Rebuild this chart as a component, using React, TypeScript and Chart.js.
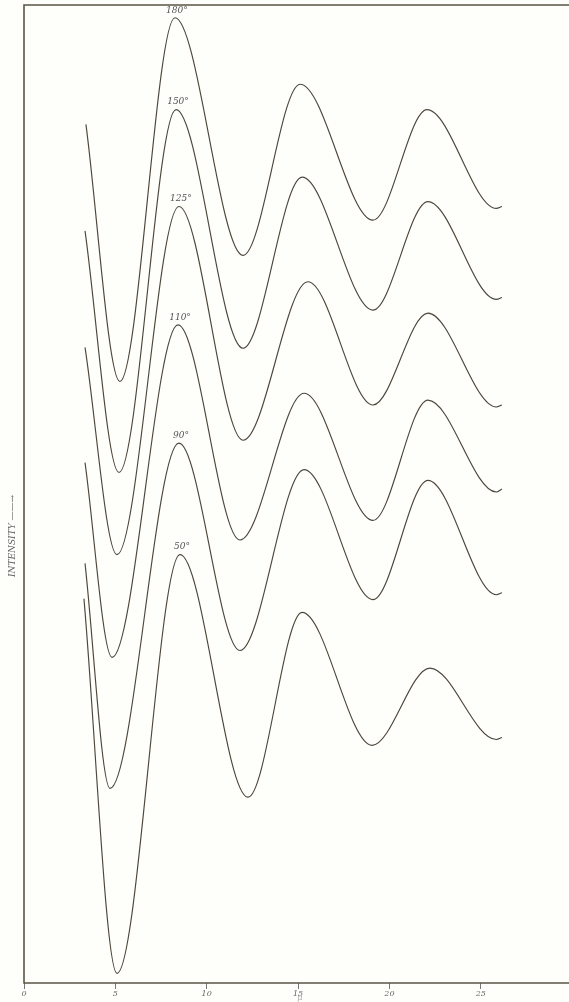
import React, { useEffect, useRef } from "react";
import { Chart, registerables } from "chart.js";

Chart.register(...registerables);

// Curve labels (temperatures)
const curveLabels = ["180°", "150°", "125°", "110°", "90°", "50°"];

// x values (abscissa) and intensity values for each curve
const x180 = [3.39, 5.25, 8.26, 11.99, 15.11, 19.1, 22.06, 25.85, 26.16];
const y180 = [87.8, 61.5, 98.7, 74.4, 91.9, 78.0, 89.3, 79.2, 79.4];

const x150 = [3.34, 5.2, 8.32, 11.99, 15.22, 19.1, 22.11, 25.85, 26.16];
const y150 = [76.9, 52.2, 89.3, 64.9, 82.4, 68.8, 79.9, 69.9, 70.1];

const x125 = [3.34, 5.09, 8.48, 11.99, 15.54, 19.1, 22.11, 25.85, 26.16];
const y125 = [65.0, 43.8, 79.4, 55.5, 71.7, 59.1, 68.5, 58.9, 59.1];

const x110 = [3.34, 4.82, 8.43, 11.82, 15.33, 19.1, 22.11, 25.85, 26.16];
const y110 = [53.2, 33.3, 67.3, 45.3, 60.3, 47.3, 59.6, 50.2, 50.5];

const x90 = [3.34, 4.71, 8.48, 11.82, 15.33, 19.1, 22.11, 25.85, 26.16];
const y90 = [42.9, 19.9, 55.2, 34.0, 52.5, 39.2, 51.4, 39.7, 39.9];

const x50 = [3.28, 5.09, 8.54, 12.26, 15.22, 19.05, 22.22, 25.85, 26.16];
const y50 = [39.3, 1.0, 43.8, 19.0, 37.9, 24.3, 32.2, 24.9, 25.1];

const xTicks = [0, 5, 10, 15, 20, 25];

const curvesX = [x180, x150, x125, x110, x90, x50];
const curvesY = [y180, y150, y125, y110, y90, y50];

const INK = "#4d463a";

const framePlugin = {
  id: "frame",
  beforeDraw(chart: any) {
    const { ctx, width, height } = chart;
    ctx.save();
    ctx.fillStyle = "#fefefb";
    ctx.fillRect(0, 0, width, height);
    ctx.restore();
  },
  afterDraw(chart: any) {
    const { ctx, chartArea } = chart;
    const { left, right, top, bottom } = chartArea;
    ctx.save();
    ctx.strokeStyle = "#5b5446";
    ctx.lineWidth = 1.6;
    ctx.beginPath();
    ctx.moveTo(right, top);
    ctx.lineTo(left, top);
    ctx.lineTo(left, bottom);
    ctx.lineTo(right, bottom);
    ctx.stroke();

    // curve labels above first main peak
    ctx.fillStyle = "#555";
    ctx.font = "italic 9px 'DejaVu Serif'";
    ctx.textAlign = "center";
    ctx.textBaseline = "bottom";
    chart.data.datasets.forEach((ds: any, i: number) => {
      const meta = chart.getDatasetMeta(i);
      const pt = meta.data[2];
      if (pt) ctx.fillText(ds.label, pt.x + 2, pt.y - 3);
    });

    // y-axis label
    ctx.save();
    ctx.translate(13, 536);
    ctx.rotate(-Math.PI / 2);
    ctx.font = "italic 9px 'DejaVu Serif'";
    ctx.fillStyle = "#666";
    ctx.textAlign = "center";
    ctx.textBaseline = "middle";
    ctx.fillText("INTENSITY ——→", 0, 0);
    ctx.restore();

    // x-axis symbol
    ctx.font = "italic 8px 'DejaVu Serif'";
    ctx.fillStyle = "#aaa";
    ctx.textAlign = "center";
    ctx.textBaseline = "middle";
    ctx.fillText("μ", chart.scales.x.getPixelForValue(15.1), 998);
    ctx.restore();
  },
};

export default function App() {
  const ref = useRef<HTMLCanvasElement>(null);
  useEffect(() => {
    document.body.style.margin = "0";
    const datasets = curvesX.map((xs, i) => ({
      label: curveLabels[i],
      data: xs.map((x, j) => ({ x, y: curvesY[i][j] })),
      showLine: true,
      borderColor: INK,
      borderWidth: 1.15,
      pointRadius: 0,
      cubicInterpolationMode: "monotone" as const,
      fill: false,
    }));
    const chart = new Chart(ref.current!, {
      type: "scatter",
      data: { datasets },
      options: {
        animation: false,
        responsive: false,
        devicePixelRatio: 1,
        layout: { padding: { top: 5, right: 0, left: 0, bottom: 0 } },
        plugins: { legend: { display: false }, tooltip: { enabled: false } },
        scales: {
          x: {
            type: "linear",
            min: 0,
            max: 29.83,
            border: { display: false },
            grid: {
              display: true,
              drawOnChartArea: false,
              drawTicks: true,
              tickLength: 6,
              color: "#777",
            },
            afterBuildTicks: (scale: any) => {
              scale.ticks = xTicks.map((v) => ({ value: v }));
            },
            afterFit: (scale: any) => {
              scale.height = 19;
            },
            ticks: {
              padding: 0,
              maxRotation: 0,
              autoSkip: false,
              color: "#666",
              font: { size: 8, style: "italic", family: "'DejaVu Serif'" },
            },
          },
          y: {
            type: "linear",
            min: 0,
            max: 100,
            border: { display: false },
            grid: { display: false },
            ticks: { display: false },
            afterFit: (scale: any) => {
              scale.width = 24;
            },
          },
        },
      },
      plugins: [framePlugin],
    });
    return () => chart.destroy();
  }, []);
  return (
    <div style={{ width: 569, height: 1002 }}>
      <canvas ref={ref} width={569} height={1002} style={{ display: "block" }} />
    </div>
  );
}
